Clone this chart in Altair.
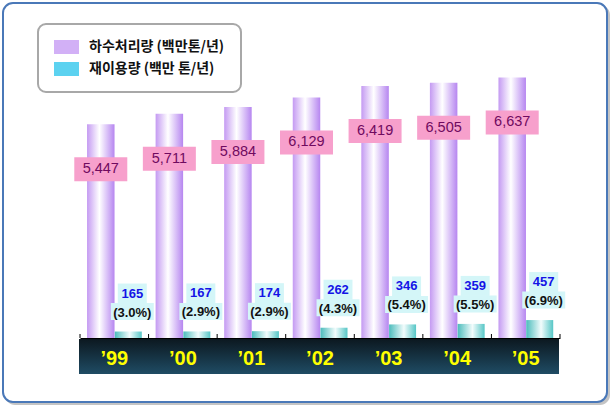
import altair as alt
import pandas as pd

years = ["’99", "’00", "’01", "’02", "’03", "’04", "’05"]
treated = [5447, 5711, 5884, 6129, 6419, 6505, 6637]
reused = [165, 167, 174, 262, 346, 359, 457]
reuse_pct = ["(3.0%)", "(2.9%)", "(2.9%)", "(4.3%)", "(5.4%)", "(5.5%)", "(6.9%)"]
series_names = ["하수처리량 (백만톤/년)", "재이용량 (백만 톤/년)"]

df = pd.DataFrame({"year": years, "treated": treated, "reused": reused, "pct": reuse_pct})
one = pd.DataFrame({"k": [0]})
leg_df = pd.DataFrame({"series": series_names})

W, H = 480, 314


def grad(stops, vertical=False):
    return alt.Gradient(
        gradient="linear",
        stops=[alt.GradientStop(offset=o, color=c) for o, c in stops],
        x1=0, y1=0, x2=0 if vertical else 1, y2=1 if vertical else 0,
    )


purple_stops = [(0, "#c49af2"), (0.45, "#ffffff"), (1, "#b686f0")]
teal_stops = [(0, "#4cbcbc"), (0.55, "#f2fcfc"), (1, "#56c6c6")]


def rect_path(w, h):
    r = w / 2
    yh = (h / 2) / r
    return f"M-1,-{yh:.4f}L1,-{yh:.4f}L1,{yh:.4f}L-1,{yh:.4f}Z", (2 * r) ** 2


x_axis = alt.Axis(
    title=None, labelAngle=0, ticks=False, domain=True, domainColor="#000000",
    domainWidth=1, labelFont="Liberation Sans", labelFontSize=20,
    labelFontWeight="bold", labelColor="#ffff00", labelBaseline="middle",
    labelPadding=20, zindex=1, grid=False,
)
x_scale = alt.Scale(paddingInner=0, paddingOuter=0)
x_enc = alt.X("year:N", sort=years, scale=x_scale, axis=x_axis)
y_scale = alt.Scale(domain=[0, 8000])

shadow = alt.Chart(one).mark_rect(fill="#c4c4c4", cornerRadius=10).encode(
    x=alt.value(-75), x2=alt.value(530), y=alt.value(-19), y2=alt.value(381)
)
frame = alt.Chart(one).mark_rect(
    fill="#ffffff", stroke="#4a78b8", strokeWidth=2, cornerRadius=10
).encode(x=alt.value(-77), x2=alt.value(527), y=alt.value(-21), y2=alt.value(378))

band = alt.Chart(one).mark_rect(
    color=grad([(0, "#0c1820"), (1, "#1f4c64")], vertical=True)
).encode(x=alt.value(-1), x2=alt.value(479), y=alt.value(H + 1), y2=alt.value(H + 36))

purple = alt.Chart(df).mark_bar(width=27.5, xOffset=-13.5, color=grad(purple_stops)).encode(
    x=x_enc, y=alt.Y("treated:Q", scale=y_scale, axis=None)
)
teal = alt.Chart(df).mark_bar(width=27, xOffset=14, color=grad(teal_stops)).encode(
    x=x_enc, y=alt.Y("reused:Q", scale=y_scale, axis=None)
)

ticks = alt.Chart(df).mark_rule(color="#000000", strokeWidth=1).encode(
    x=alt.X("year:N", sort=years, bandPosition=0, scale=x_scale, axis=x_axis),
    y=alt.value(H - 4), y2=alt.value(H),
)
tick_end = alt.Chart(one).mark_rule(color="#000000", strokeWidth=1).encode(
    x=alt.value(W), y=alt.value(H - 4), y2=alt.value(H)
)

pk_path, pk_size = rect_path(53, 24)
pink_box = alt.Chart(df).mark_point(
    shape=pk_path, size=pk_size, filled=True, color="#f7a0cc", opacity=1,
    xOffset=-13.5, yOffset=45,
).encode(x=x_enc, y=alt.Y("treated:Q", scale=y_scale, axis=None))
pink_text = alt.Chart(df).mark_text(
    font="Liberation Sans", fontSize=14.5, color="#700a60", dx=-13.5, dy=45,
    baseline="middle",
).encode(x=x_enc, y=alt.Y("treated:Q", scale=y_scale, axis=None),
         text=alt.Text("treated:Q", format=","))

cn_path, cn_size = rect_path(29, 20)
cyan_num = alt.Chart(df).mark_point(
    shape=cn_path, size=cn_size, filled=True, color="#d4f6f8", opacity=1,
    xOffset=18, yOffset=-38,
).encode(x=x_enc, y=alt.Y("reused:Q", scale=y_scale, axis=None))
cp_path, cp_size = rect_path(43, 17)
cyan_pct = alt.Chart(df).mark_point(
    shape=cp_path, size=cp_size, filled=True, color="#d4f6f8", opacity=1,
    xOffset=18, yOffset=-20,
).encode(x=x_enc, y=alt.Y("reused:Q", scale=y_scale, axis=None))

num_text = alt.Chart(df).mark_text(
    font="Liberation Sans", fontSize=13, fontWeight="bold", color="#1414e6",
    dx=18, dy=-38, baseline="middle",
).encode(x=x_enc, y=alt.Y("reused:Q", scale=y_scale, axis=None), text="reused:Q")
pct_text = alt.Chart(df).mark_text(
    font="Liberation Sans", fontSize=13, fontWeight="bold", color="#111111",
    dx=18, dy=-19, baseline="middle",
).encode(x=x_enc, y=alt.Y("reused:Q", scale=y_scale, axis=None), text="pct:N")

# legend swatch: 25x14 rectangle, symbol size 14 (r=7), left edge at symbol origin
lg_path = "M-1,-1L2.5714,-1L2.5714,1L-1,1Z"
legend_layer = alt.Chart(leg_df).mark_point(filled=True, opacity=0).encode(
    color=alt.Color(
        "series:N", sort=series_names,
        scale=alt.Scale(domain=series_names, range=["#d2b0f6", "#5cd2f0"]),
        legend=alt.Legend(
            title=None, orient="none", legendX=-42, legendY=0,
            symbolType=lg_path, symbolSize=196, symbolOpacity=1,
            symbolStrokeWidth=0,
            labelFont="Noto Sans CJK KR", labelFontSize=14, labelFontWeight="bold",
            labelColor="#111111", labelOffset=21, padding=16, rowPadding=8,
            strokeColor="#a8a8a8", cornerRadius=8, fillColor="#ffffff",
        ),
    ),
)

chart = alt.layer(
    shadow, frame, band, purple, teal, ticks, tick_end,
    pink_box, pink_text, cyan_num, cyan_pct, num_text, pct_text, legend_layer,
).properties(
    width=W, height=H,
    padding={"left": 80, "top": 24, "right": 52, "bottom": 70},
    autosize=alt.AutoSizeParams(type="none"),
    background="#ffffff",
).configure_view(stroke=None).configure_legend(strokeWidth=2)

chart.save("out.html", embed_options={"renderer": "svg", "actions": False})
